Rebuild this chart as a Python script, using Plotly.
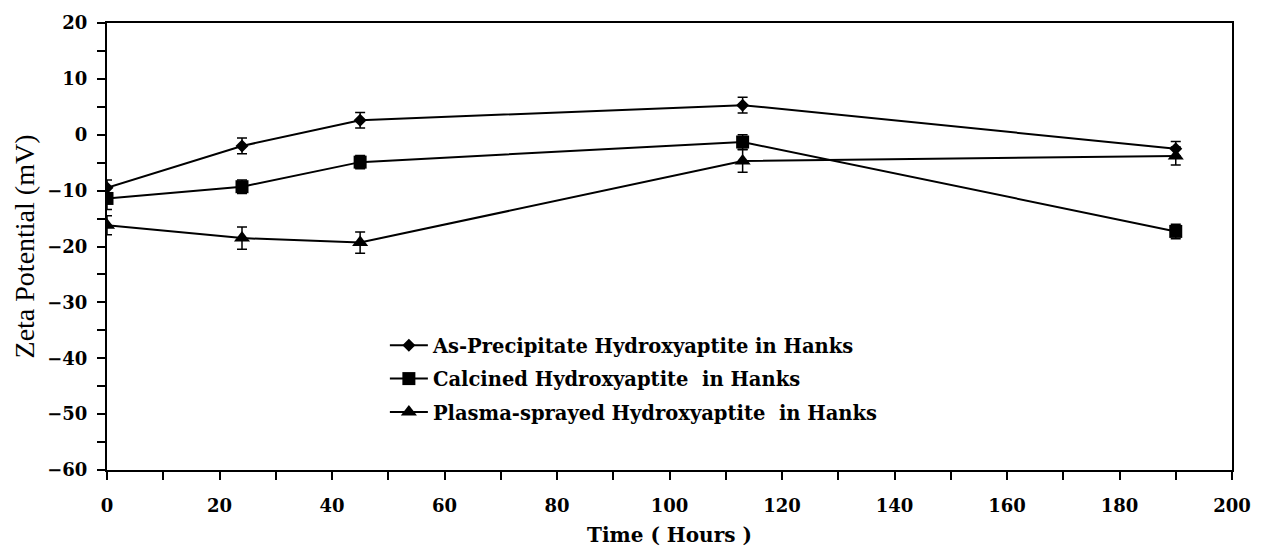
import plotly.graph_objects as go

time_h = [0, 24, 45, 113, 190]

names = [
    "As-Precipitate Hydroxyaptite in Hanks",
    "Calcined Hydroxyaptite  in Hanks",
    "Plasma-sprayed Hydroxyaptite  in Hanks",
]
as_precip = [-9.5, -2.0, 2.6, 5.3, -2.5]
as_precip_err = [1.4, 1.4, 1.4, 1.4, 1.3]
calcined = [-11.4, -9.3, -4.9, -1.3, -17.3]
calcined_err = [2.0, 1.2, 1.2, 1.3, 1.3]
plasma = [-16.2, -18.5, -19.3, -4.7, -3.8]
plasma_err = [1.7, 2.0, 1.9, 2.0, 1.6]

series = [
    (names[0], as_precip, as_precip_err, "diamond", 10),
    (names[1], calcined, calcined_err, "square", 13),
    (names[2], plasma, plasma_err, "triangle-up", 14),
]

fig = go.Figure()
for i, (name, vals, errs, sym, size) in enumerate(series):
    fig.add_trace(go.Scatter(
        x=time_h, y=vals, name=name, mode="lines+markers",
        legendgroup=f"g{i}",
        line=dict(color="black", width=2),
        marker=dict(symbol=sym, size=size, color="black"),
        error_y=dict(type="data", array=errs, visible=True,
                     color="black", thickness=1.5, width=5),
    ))

serif_wide = "DejaVu Serif, serif"
serif = "Liberation Serif, Times New Roman, serif"
fig.update_layout(
    width=1264, height=555,
    paper_bgcolor="white", plot_bgcolor="white",
    margin=dict(l=107, r=32, t=12, b=82),
    font=dict(family=serif, color="black"),
    showlegend=True,
    legend=dict(
        x=0.247, y=0.322, xanchor="left", yanchor="top",
        font=dict(size=19.5, family=serif_wide, weight="bold"),
        bgcolor="rgba(0,0,0,0)", tracegroupgap=5, itemwidth=38,
    ),
    xaxis=dict(
        range=[0, 200], dtick=20, tick0=0,
        showgrid=False, zeroline=False,
        showline=True, linecolor="black", linewidth=2, mirror=True,
        ticks="outside", ticklen=8, tickwidth=1.5, tickcolor="black",
        ticklabelstandoff=10,
        minor=dict(dtick=10, ticks="outside", ticklen=8, tickwidth=1.5, tickcolor="black"),
        tickfont=dict(size=18, family=serif_wide, weight="bold"),
        title=dict(text="Time ( Hours )", standoff=13,
                   font=dict(size=20, family=serif_wide, weight="bold")),
    ),
    yaxis=dict(
        range=[-60, 20], dtick=10, tick0=0,
        showgrid=False, zeroline=False,
        showline=True, linecolor="black", linewidth=2, mirror=True,
        ticks="outside", ticklen=8, tickwidth=1.5, tickcolor="black",
        ticklabelstandoff=6,
        minor=dict(dtick=5, ticks="outside", ticklen=8, tickwidth=1.5, tickcolor="black"),
        tickfont=dict(size=18, family=serif_wide, weight="bold"),
        title=dict(text="Zeta Potential (mV)", standoff=4,
                   font=dict(size=28, family=serif)),
    ),
)

fig.write_html("out.html", config={"displayModeBar": False},
               post_script="document.body.style.margin='0';")
